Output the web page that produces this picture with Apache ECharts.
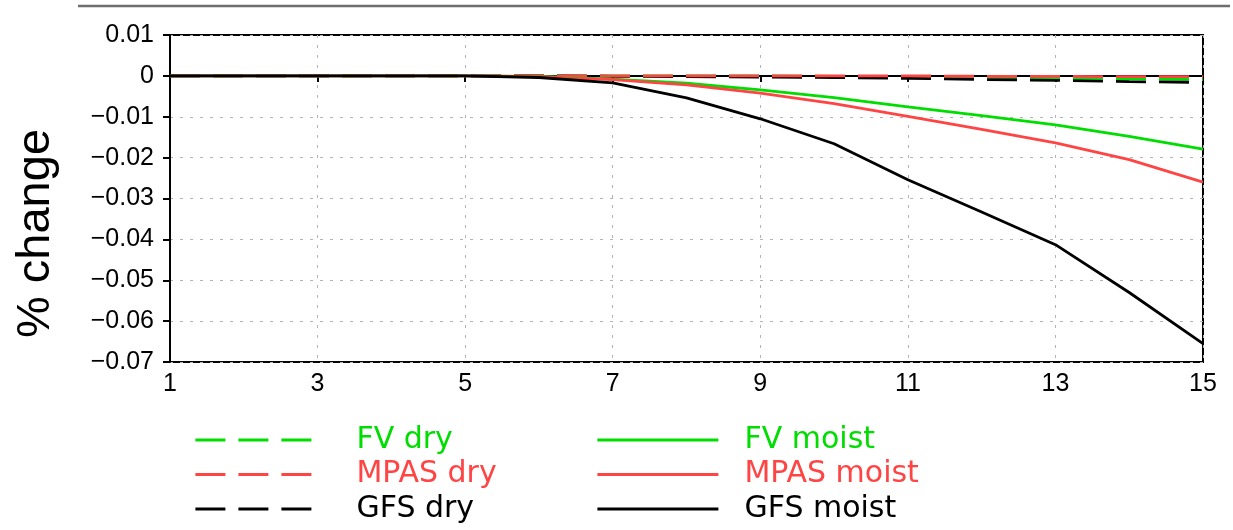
<!DOCTYPE html>
<html>
<head>
<meta charset="utf-8">
<script src="https://cdn.jsdelivr.net/npm/echarts@6/dist/echarts.min.js"></script>
<style>
  html, body { margin: 0; padding: 0; background: #fff; }
  #chart { width: 1233px; height: 530px; }
</style>
</head>
<body>
<div id="chart"></div>
<script>
// forecast day
var days = [1, 2, 3, 4, 5, 6, 7, 8, 9, 10, 11, 12, 13, 14, 15];

// % change, dry runs
var fvDry   = [0, 0, 0, 0, 0, 0, 0, 0, 0, -0.0001, -0.0002, -0.0003, -0.0005, -0.0007, -0.0009];
var mpasDry = [0, 0, 0, 0, 0, 0, 0, 0, 0, 0, 0, -0.0001, -0.0001, -0.0002, -0.0002];
var gfsDry  = [0, 0, 0, 0, 0, 0, -0.0001, -0.0002, -0.0003, -0.0004, -0.0006, -0.0009, -0.0011, -0.0014, -0.0016];

// % change, moist runs
var fvMoist   = [0, 0, 0, 0, 0, -0.0001, -0.0008, -0.0018, -0.0034, -0.0053, -0.0076, -0.0097, -0.012, -0.0148, -0.0179];
var mpasMoist = [0, 0, 0, 0, 0, -0.0002, -0.0009, -0.0022, -0.0042, -0.0068, -0.0099, -0.0131, -0.0164, -0.0205, -0.026];
var gfsMoist  = [0, 0, 0, 0, 0, -0.0004, -0.0017, -0.0054, -0.0105, -0.0166, -0.0254, -0.0333, -0.0413, -0.053, -0.0655];

var GREEN = '#00dd00';
var RED = '#ff4444';
var BLACK = '#000000';
var DASH = [30, 13];

function pairs(vals) {
  return days.map(function (d, i) { return [d, vals[i]]; });
}

function mkLine(name, vals, color, dashed) {
  return {
    name: name,
    type: 'line',
    data: pairs(vals),
    symbol: 'none',
    silent: true,
    color: color,
    lineStyle: { color: color, width: 2.8, type: dashed ? DASH : 'solid' }
  };
}

function legendItem(name, color) {
  return { name: name, textStyle: { color: color } };
}

var chart = echarts.init(document.getElementById('chart'));

var option = {
  animation: false,
  backgroundColor: '#fff',
  grid: {
    left: 170, right: 30, top: 35, bottom: 168,
    show: true, borderColor: '#000', borderWidth: 2
  },
  graphic: [{
    type: 'line',
    shape: { x1: 78, y1: 6, x2: 1230, y2: 6 },
    style: { stroke: '#6e6e6e', lineWidth: 2.5 }
  }],
  legend: [{
    orient: 'vertical',
    left: 194, top: 425, padding: 0,
    itemWidth: 116, itemHeight: 30, itemGap: 4.5,
    selectedMode: false,
    itemStyle: { opacity: 0 },
    lineStyle: { width: 2.8 },
    textStyle: { fontFamily: 'DejaVu Sans', fontSize: 30, lineHeight: 30, padding: [0, 0, 0, 40] },
    data: [legendItem('FV dry', GREEN), legendItem('MPAS dry', RED), legendItem('GFS dry', BLACK)]
  }, {
    orient: 'vertical',
    left: 596, top: 425, padding: 0,
    itemWidth: 121, itemHeight: 30, itemGap: 4.5,
    selectedMode: false,
    itemStyle: { opacity: 0 },
    lineStyle: { width: 2.8 },
    textStyle: { fontFamily: 'DejaVu Sans', fontSize: 30, lineHeight: 30, padding: [0, 0, 0, 21] },
    data: [legendItem('FV moist', GREEN), legendItem('MPAS moist', RED), legendItem('GFS moist', BLACK)]
  }],
  xAxis: {
    type: 'value',
    min: 1, max: 15, interval: 2,
    axisLine: { lineStyle: { color: '#000', width: 2 } },
    axisTick: { show: true, length: 6, lineStyle: { color: '#000', width: 2 } },
    axisLabel: { margin: 10, color: '#000', fontFamily: 'Liberation Sans', fontSize: 25 },
    splitLine: { show: true, lineStyle: { color: '#b4b4b4', width: 1, type: [3, 7] } }
  },
  yAxis: {
    type: 'value',
    min: -0.07, max: 0.01, interval: 0.01,
    name: '% change',
    nameLocation: 'middle',
    nameRotate: 90,
    nameGap: 110,
    nameTextStyle: { color: '#000', fontFamily: 'Liberation Sans', fontSize: 47, padding: [0, 70, 0, 0] },
    axisLine: { show: true, lineStyle: { color: '#000', width: 2 } },
    axisTick: { show: true, length: 7, lineStyle: { color: '#000', width: 2 } },
    axisLabel: {
      margin: 16, color: '#000', fontFamily: 'Liberation Sans', fontSize: 25,
      formatter: function (v) {
        if (Math.abs(v) < 1e-9) return '0';
        return v.toFixed(2).replace('-', '\u2212');
      }
    },
    splitLine: { show: true, lineStyle: { color: '#b4b4b4', width: 1, type: [3, 7] } }
  },
  series: [
    mkLine('FV dry', fvDry, GREEN, true),
    mkLine('GFS dry', gfsDry, BLACK, true),
    mkLine('MPAS dry', mpasDry, RED, true),
    mkLine('FV moist', fvMoist, GREEN, false),
    mkLine('MPAS moist', mpasMoist, RED, false),
    mkLine('GFS moist', gfsMoist, BLACK, false)
  ]
};

chart.setOption(option);
</script>
</body>
</html>
